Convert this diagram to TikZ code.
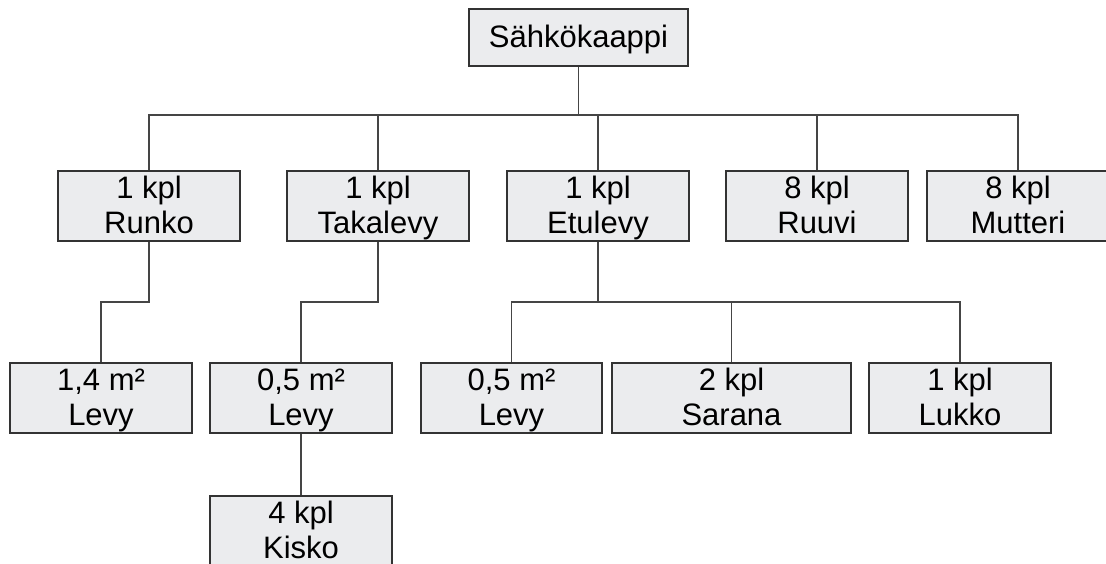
\documentclass[tikz,border=0pt]{standalone}
\usepackage{fontspec}
\setmainfont{Liberation Sans}
\definecolor{boxfill}{HTML}{EBECEE}
\definecolor{boxline}{HTML}{333333}
\definecolor{wire}{HTML}{454545}
% two-line label with fixed line heights
\newcommand{\twoline}[2]{\rule[-8pt]{0pt}{35pt}#1\\\rule[-8pt]{0pt}{35pt}#2}
\begin{document}
\begin{tikzpicture}[x=1pt,y=-1pt,
  part/.style={draw=boxline,fill=boxfill,line width=1.4pt,minimum width=182pt,
    minimum height=68pt,inner sep=0pt,align=center,
    font=\fontsize{31}{35}\selectfont},
  wirestyle/.style={draw=wire,line width=1.3pt}]
\useasboundingbox (0,0) rectangle (1106,563);

% assembly root
\node[part,minimum width=219pt,minimum height=57pt] (root) at (578.5,37.5)
  {\rule[-8pt]{0pt}{35pt}Sähkökaappi};

% first level
\node[part] (runko)    at (149,206)  {\twoline{1 kpl}{Runko}};
\node[part] (takalevy) at (378,206)  {\twoline{1 kpl}{Takalevy}};
\node[part] (etulevy)  at (598,206)  {\twoline{1 kpl}{Etulevy}};
\node[part] (ruuvi)    at (817,206)  {\twoline{8 kpl}{Ruuvi}};
\node[part] (mutteri)  at (1018,206) {\twoline{8 kpl}{Mutteri}};

% second level
\node[part] (levya)  at (101,398)   {\twoline{1,4 m²}{Levy}};
\node[part] (levyb)  at (301,398)   {\twoline{0,5 m²}{Levy}};
\node[part,minimum width=181pt] (levyc) at (511.5,398) {\twoline{0,5 m²}{Levy}};
\node[part,minimum width=239pt] (sarana) at (731.5,398) {\twoline{2 kpl}{Sarana}};
\node[part] (lukko)  at (960,398)   {\twoline{1 kpl}{Lukko}};

% third level
\node[part] (kisko) at (301,531) {\twoline{4 kpl}{Kisko}};

% junction points of the tree lines
\coordinate (bus)  at (578.5,115);
\coordinate (rjn)  at (149,302);
\coordinate (tjn)  at (378,302);
\coordinate (ejn)  at (598,302);

\begin{scope}[wirestyle]
  \draw (root.south) -- (bus);
  \foreach \c in {runko,takalevy,etulevy,ruuvi,mutteri}
    \draw (bus) -| (\c.north);
  \draw (runko.south) -- (rjn) -| (levya.north);
  \draw (takalevy.south) -- (tjn) -| (levyb.north);
  \draw (levyb.south) -- (kisko.north);
  \draw (etulevy.south) -- (ejn);
  \foreach \c in {levyc,sarana,lukko}
    \draw (ejn) -| (\c.north);
\end{scope}
\end{tikzpicture}
\end{document}
